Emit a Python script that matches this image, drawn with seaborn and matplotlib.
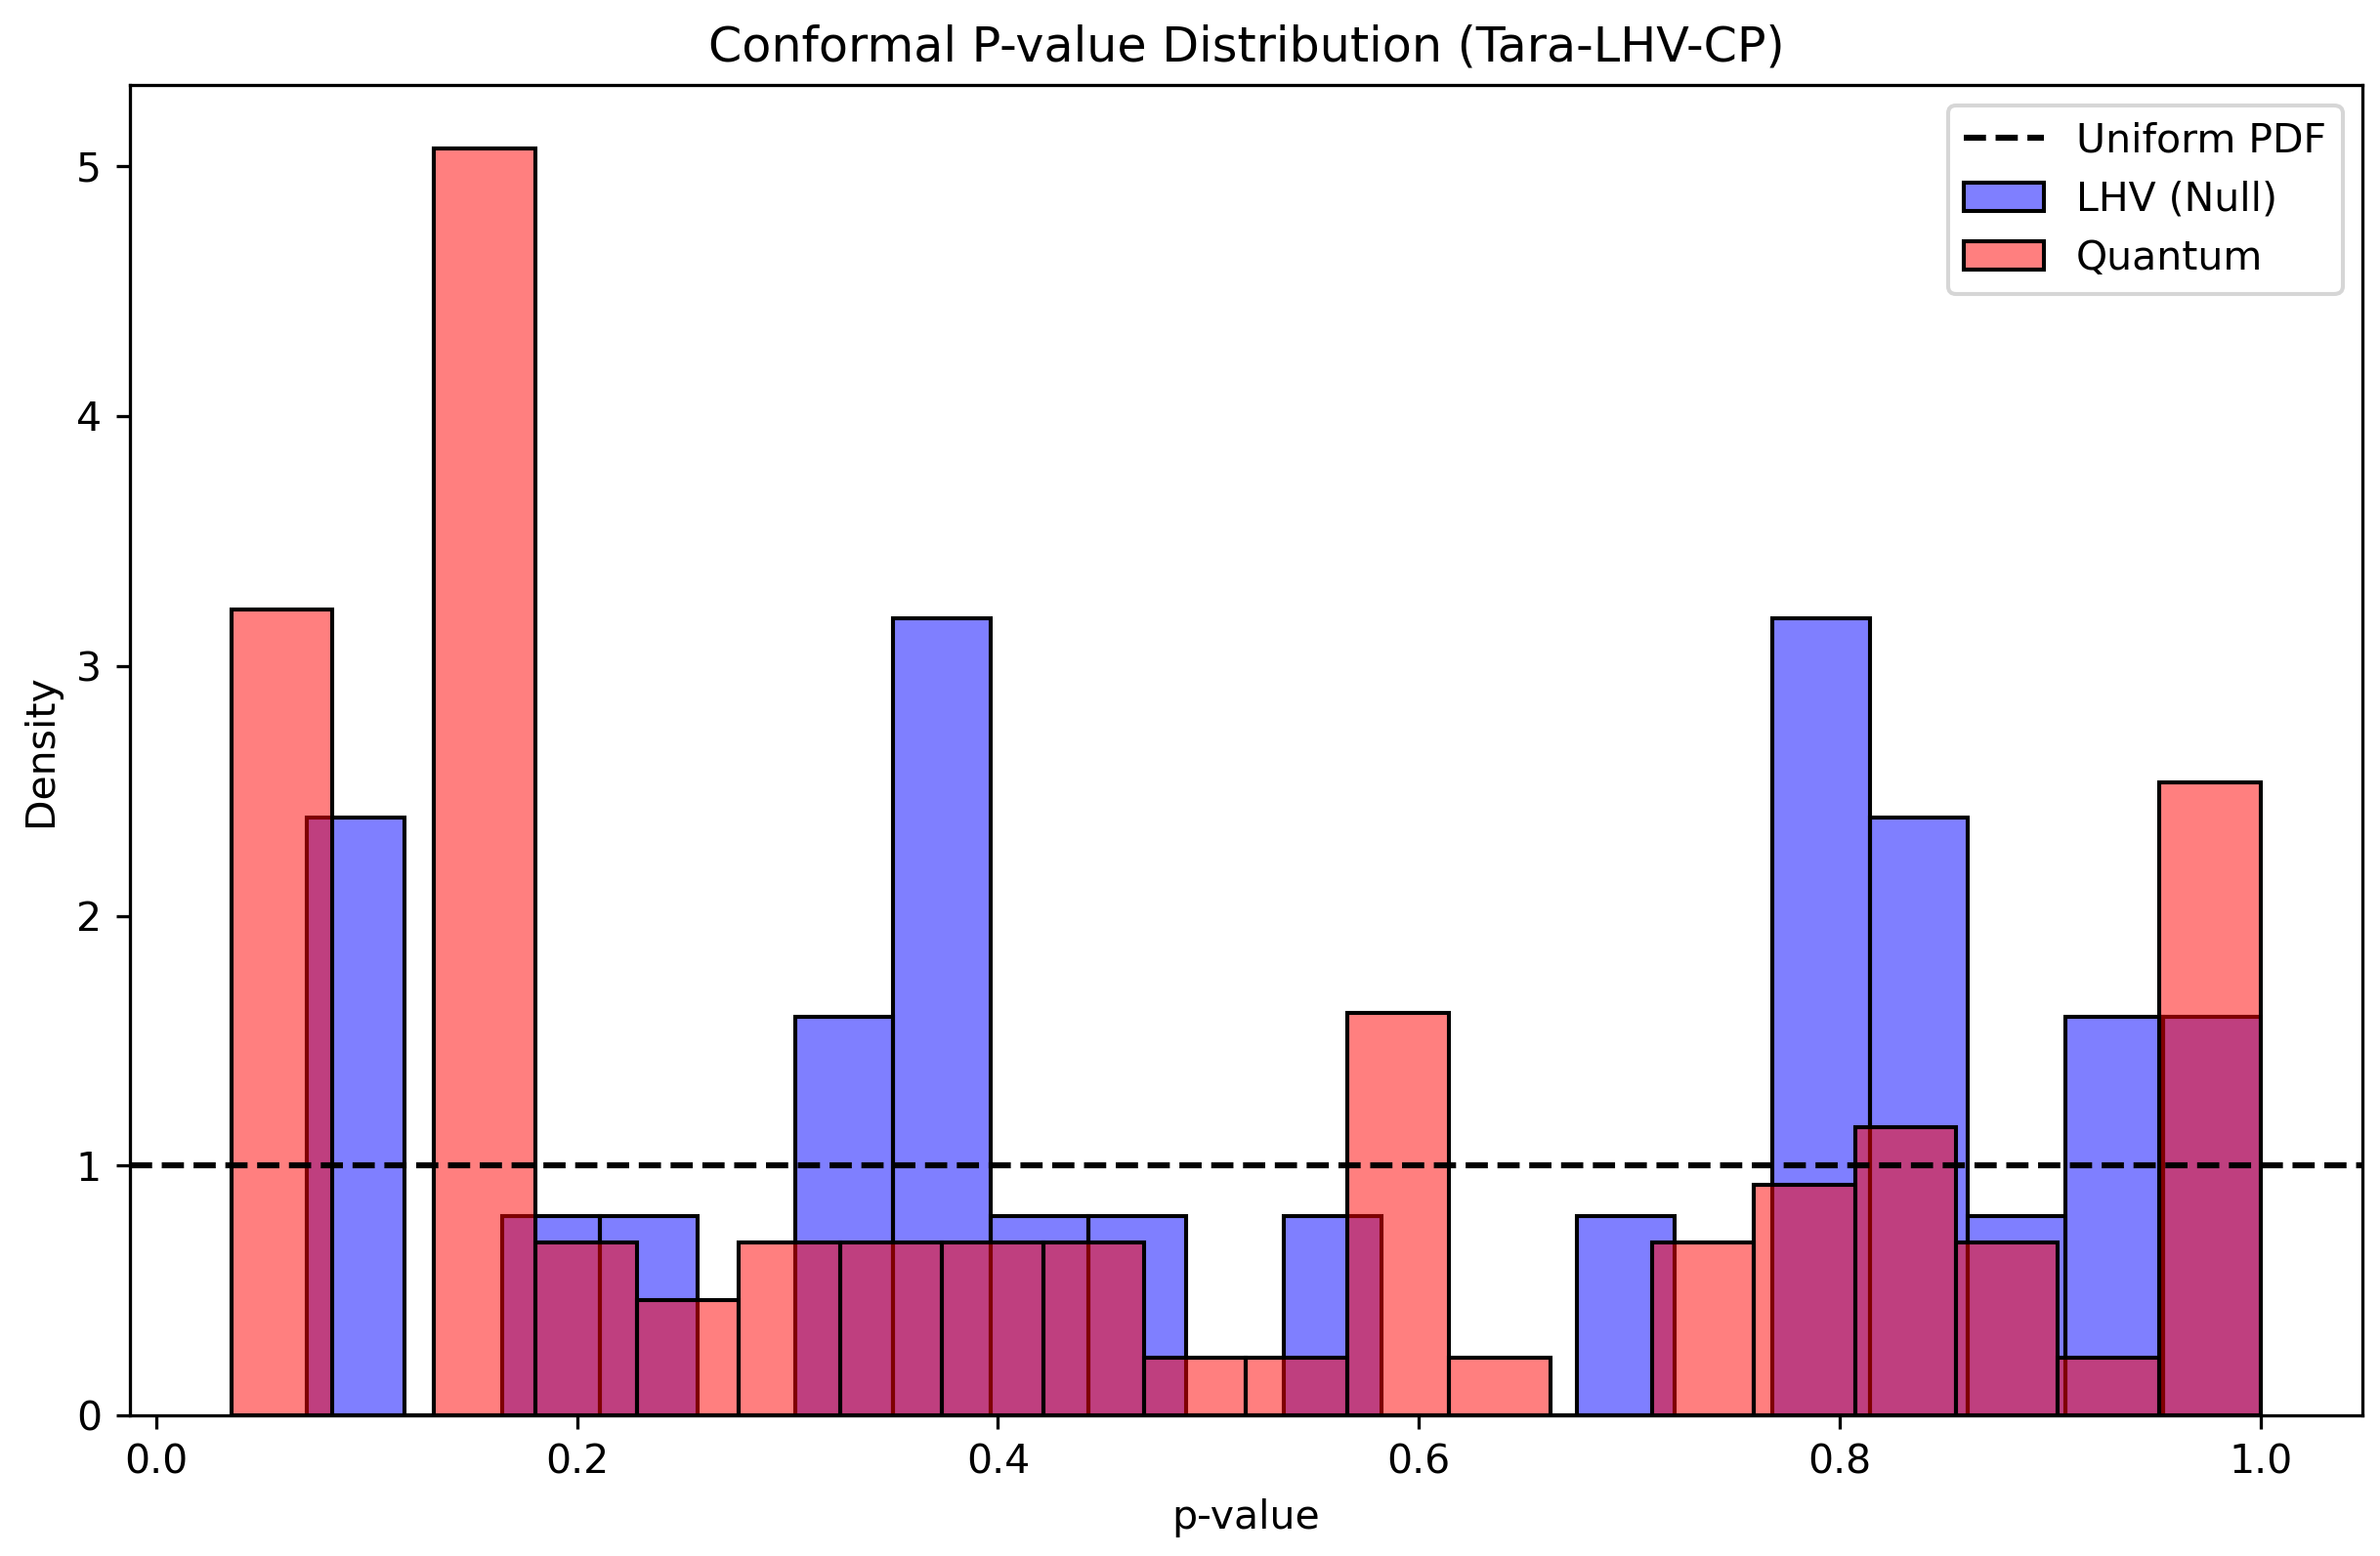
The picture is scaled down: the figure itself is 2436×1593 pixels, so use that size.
import numpy as np
import pandas as pd
import matplotlib
matplotlib.use("Agg")
import matplotlib.pyplot as plt
import seaborn as sns

# ---- data (binned counts) ----
n_bins = 20
lhv_range = (1 / 14, 1.0)
quantum_range = (1 / 28, 1.0)
lhv_counts = [3, 0, 1, 1, 0, 2, 4, 1, 1, 0, 1, 0, 0, 1, 0, 4, 3, 1, 2, 2]
quantum_counts = [14, 0, 22, 3, 2, 3, 3, 3, 3, 1, 1, 7, 1, 0, 3, 4, 5, 3, 1, 11]
uniform_pdf = 1.0

title = "Conformal P-value Distribution (Tara-LHV-CP)"
xlabel = "p-value"
ylabel = "Density"
labels = ["LHV (Null)", "Quantum"]


def bin_centers(rng, n):
    edges = np.linspace(rng[0], rng[1], n + 1)
    return (edges[:-1] + edges[1:]) / 2


lhv_df = pd.DataFrame({"p": bin_centers(lhv_range, n_bins), "w": lhv_counts})
q_df = pd.DataFrame({"p": bin_centers(quantum_range, n_bins), "w": quantum_counts})

dpi = 294.8
fig = plt.figure(figsize=(2436 / dpi, 1593 / dpi), dpi=dpi)
ax = fig.add_axes([0.05447, 0.09021, 0.99261 - 0.05447, 0.94520 - 0.09021])

sns.histplot(data=lhv_df, x="p", weights="w", bins=n_bins, binrange=lhv_range,
             stat="density", color="blue", alpha=0.5, edgecolor="black",
             label=labels[0], ax=ax)
sns.histplot(data=q_df, x="p", weights="w", bins=n_bins, binrange=quantum_range,
             stat="density", color="red", alpha=0.5, edgecolor="black",
             label=labels[1], ax=ax)
ax.axhline(uniform_pdf, color="black", linestyle="--", linewidth=1.5, label="Uniform PDF")

ax.set_title(title)
ax.set_xlabel(xlabel)
ax.set_ylabel(ylabel)
ax.legend(loc="upper right")

fig.savefig("out.png", dpi=dpi)
